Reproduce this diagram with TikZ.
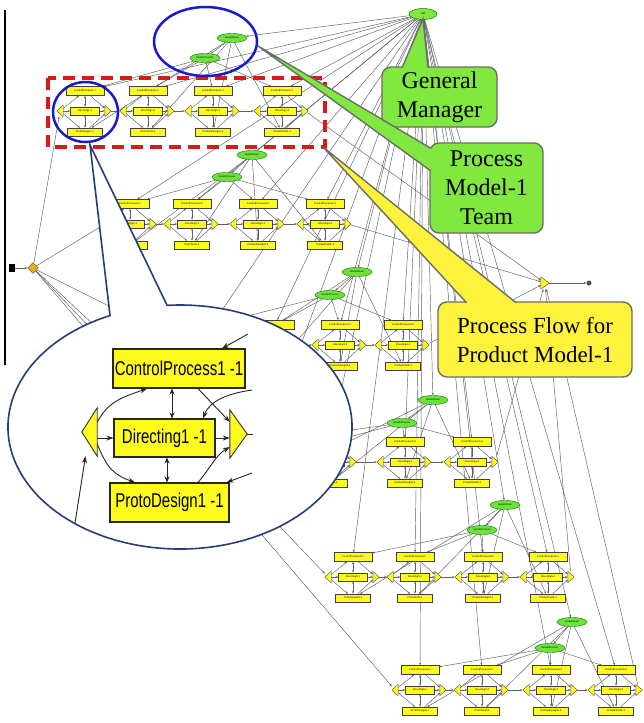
\documentclass[tikz,border=0pt]{standalone}
\usepackage{fontspec}
\usepackage{graphicx}
\setmainfont{Liberation Serif}
\newfontfamily\labelfont{Liberation Sans}
\usetikzlibrary{arrows.meta,shapes.geometric,calc}
\pgfdeclarelayer{background}
\pgfdeclarelayer{paper}
\pgfsetlayers{paper,background,main}

\definecolor{boxyellow}{RGB}{255,250,30}
\definecolor{callyellow}{RGB}{255,242,60}
\definecolor{teamgreen}{RGB}{110,225,60}
\definecolor{callgreen}{RGB}{128,232,62}
\definecolor{calledge}{RGB}{105,110,105}
\definecolor{dashred}{RGB}{220,25,25}
\definecolor{ringblue}{RGB}{25,25,205}
\definecolor{zoomblue}{RGB}{40,60,120}
\definecolor{wiregray}{RGB}{95,95,95}

\tikzset{
  sbox/.style={draw=black!75, fill=boxyellow, line width=0.5pt, inner sep=0pt,
    font=\labelfont\fontsize{2.6}{3}\selectfont},
  tribox/.style={inner sep=0pt, draw=none},
  trifill/.style={fill=boxyellow, draw=black!70, line width=0.4pt},
  tellipse/.style={ellipse, draw=green!45!black, fill=teamgreen, line width=0.4pt,
    minimum width=30pt, minimum height=9pt, inner sep=0pt,
    font=\labelfont\fontsize{2.4}{3}\selectfont},
  wire/.style={draw=wiregray, line width=0.45pt, arrows={-Stealth[length=2.6pt,width=2pt]}},
  twoway/.style={draw=wiregray, line width=0.45pt,
    arrows={Stealth[length=2.6pt,width=2pt]-Stealth[length=2.6pt,width=2pt]}},
  bigbox/.style={draw=black!85, fill=boxyellow, line width=1.1pt, inner sep=0pt,
    font=\labelfont\fontsize{20}{22}\selectfont},
  bigwire/.style={draw=black!85, line width=0.9pt, arrows={-Stealth[length=7pt,width=5pt]}},
  bigtwoway/.style={draw=black!85, line width=0.9pt,
    arrows={Stealth[length=6pt,width=5pt]-Stealth[length=6pt,width=5pt]}},
  callout/.style={draw=calledge, line width=1.4pt, rounded corners=9pt},
  calltext/.style={font=\fontsize{24}{29}\selectfont, align=center, inner sep=0pt},
}

\begin{document}
\begin{tikzpicture}[x=1pt,y=-1pt]
\useasboundingbox (0,0) rectangle (643,723);
\begin{pgfonlayer}{paper}
  \fill[white] (0,0) rectangle (643,723);
\end{pgfonlayer}

% frame edge on the left
\draw[line width=1.2pt] (5,10) -- (5,365);

% general manager, start and end of the flow
\node[ellipse, draw=green!50!black, fill=callgreen, line width=0.5pt, minimum width=28pt,
  minimum height=11pt, inner sep=0pt, font=\labelfont\fontsize{2.6}{3}\selectfont] (gm) at (423,14) {GM};
\node[draw=black, fill=black, minimum width=5pt, minimum height=7pt, inner sep=0pt] (start) at (12,268) {};
\node[diamond, draw=black!70, fill={rgb,255:red,215;green,180;blue,20}, minimum width=11pt,
  minimum height=11pt, inner sep=0pt] (dia) at (33,268) {};
\node[tribox, minimum width=8pt, minimum height=12pt] (endtri) at (545,283) {};
\filldraw[trifill] (endtri.north west) -- (endtri.south west) -- (endtri.east) -- cycle;
\node[circle, fill=black!70, minimum size=5pt, inner sep=0pt] (enddot) at (589,283) {};
\begin{pgfonlayer}{background}
  \draw[wire] (start) -- (dia);
  \draw[wire] (endtri) -- (enddot);
\end{pgfonlayer}

% six product teams, each with a row of four process units
% (\h = number of leading units that lie under the enlarged view and carry no label)
\foreach \g/\h/\y/\mx/\my/\qx/\qy/\xa/\xb/\xc/\xd in {
  1/0/111/232/38/205/58/85/148/213/282,
  2/0/224/252/155/227/177/130/192/258/325,
  3/2/345/357/272/330/295/212/275/340/403,
  4/1/462/433/400/402/423/265/330/405/472,
  5/0/577/505/505/482/530/353/415/483/548,
  6/0/690/572/622/550/648/420/482/551/616}{
  \node[tellipse] (m\g) at (\mx,\my) {Model\g Team};
  \node[tellipse] (q\g) at (\qx,\qy) {Model\g Process};
  \foreach \u/\cx/\bn in {1/\xa/ProtoDesign,2/\xb/ProtoTest,3/\xc/ProductDesign,4/\xd/ProductTest}{
    \node[sbox, minimum width=38pt, minimum height=9pt] (c\g\u) at (\cx,\y-20) {\ifnum\u>\h ControlProcess\g-\u\fi};
    \node[sbox, minimum width=29pt, minimum height=8pt] (d\g\u) at (\cx,\y) {\ifnum\u>\h Directing\g-\u\fi};
    \node[sbox, minimum width=35pt, minimum height=8pt] (p\g\u) at (\cx,\y+21) {\ifnum\u>\h \bn\g-\u\fi};
    \node[tribox, minimum width=6pt, minimum height=11pt] (l\g\u) at (\cx-25,\y) {};
    \node[tribox, minimum width=6pt, minimum height=11pt] (r\g\u) at (\cx+23,\y) {};
    \filldraw[trifill] (l\g\u.north east) -- (l\g\u.south east) -- (l\g\u.west) -- cycle;
    \filldraw[trifill] (r\g\u.north west) -- (r\g\u.south west) -- (r\g\u.east) -- cycle;
    \begin{pgfonlayer}{background}
      \draw[wire] (l\g\u) -- (c\g\u);
      \draw[wire] (l\g\u) -- (d\g\u);
      \draw[wire] (l\g\u) -- (p\g\u);
      \draw[wire] (c\g\u) -- (r\g\u);
      \draw[wire] (d\g\u) -- (r\g\u);
      \draw[wire] (p\g\u) -- (r\g\u);
      \draw[twoway] (c\g\u) -- (d\g\u);
      \draw[twoway] (d\g\u) -- (p\g\u);
      \draw[wire] (gm) -- (c\g\u);
      \draw[wire] (m\g) -- (p\g\u);
      \draw[wire] (q\g) -- (c\g\u);
    \end{pgfonlayer}
  }
  \begin{pgfonlayer}{background}
    \foreach \a/\b in {1/2,2/3,3/4}{\draw[wire] (r\g\a) -- (l\g\b);}
    \draw[wire] (dia) -- (l\g1);
    \draw[wire] (r\g4) -- (endtri);
    \draw[wire] (gm) -- (m\g);
    \draw[wire] (m\g) -- (q\g);
  \end{pgfonlayer}
}

% highlight marks
\draw[dashred, line width=3.8pt, dash pattern=on 12pt off 7pt] (48,78) rectangle (325,147);
\draw[ringblue, line width=2.5pt] (85.5,112) ellipse [x radius=32.5, y radius=30];
\draw[ringblue, line width=2.5pt] (205.5,41.5) ellipse [x radius=51.5, y radius=34.5];

% enlarged view of the first process unit
\filldraw[fill=white, draw=zoomblue, line width=1.6pt] (90,145) -- (110.04,315.55)
  arc[start angle=246, end angle=-94.3, x radius=172, y radius=122] -- cycle;

\node[bigbox, minimum width=132pt, minimum height=39pt] (zc) at (179,368.5) {\scalebox{0.75}[1]{ControlProcess1 -1}};
\node[bigbox, minimum width=101pt, minimum height=38pt] (zd) at (164.5,438) {\scalebox{0.75}[1]{Directing1 -1}};
\node[bigbox, minimum width=119pt, minimum height=39pt] (zp) at (169.5,502.5) {\scalebox{0.75}[1]{ProtoDesign1 -1}};
\node[tribox, minimum width=15pt, minimum height=48pt] (zl) at (89.5,432) {};
\node[tribox, minimum width=17pt, minimum height=48pt] (zr) at (238.5,434) {};
\filldraw[fill=boxyellow, draw=black!80, line width=0.9pt] (zl.north east) -- (zl.south east) -- (zl.west) -- cycle;
\filldraw[fill=boxyellow, draw=black!80, line width=0.9pt] (zr.north west) -- (zr.south west) -- (zr.east) -- cycle;
\coordinate (o1) at (248,334);
\coordinate (o2) at (252,390);
\coordinate (o3) at (252,473);
\coordinate (o4) at (75,523);
\coordinate (o5) at (253,434);

\draw[bigwire] ([yshift=10pt]zl.east) .. controls +(12,-22) and +(-22,8) .. ([xshift=-32pt]zc.south);
\draw[bigwire] (zl.east |- zd.west) -- (zd.west);
\draw[bigwire] ([yshift=-12pt]zl.east) .. controls +(10,24) and +(-22,-8) .. ([xshift=-34.5pt]zp.north);
\draw[bigwire] ([xshift=19pt]zc.south) -- ([yshift=12pt]zr.west);
\draw[bigwire] (zd.east) -- (zd.east -| zr.west);
\draw[bigwire] ([xshift=28.5pt]zp.north) .. controls +(12,-14) and +(-14,8) .. ([yshift=-13pt]zr.west);
\draw[bigtwoway] ([xshift=7.5pt]zd.north) -- ([xshift=7.5pt]zd.north |- zc.south);
\draw[bigtwoway] ([xshift=2.5pt]zd.south) -- ([xshift=2.5pt]zd.south |- zp.north);
\draw[bigwire] (o1) -- ([xshift=43pt]zc.north);
\draw[bigwire] (o2) .. controls +(-28,4) and +(6,-16) .. ([xshift=38.5pt]zd.north);
\draw[bigwire] (o3) -- ([xshift=-3pt]zp.north east);
\draw[bigwire] (o4) -- ([xshift=-4pt]zl.south);
\draw[draw=black!85, line width=0.9pt] (zr.east) -- (o5);

% callout: general manager
\filldraw[fill=callgreen, callout] (382,67) rectangle (497,127);
\fill[callgreen] (402,69) -- (423,19) -- (428,69) -- cycle;
\draw[calledge, line width=1.4pt] (402,67.7) -- (423,19) -- (428,67.7);
\node[calltext] (gmlabel) at (439.5,97) {General\\Manager};

% callout: model-1 team
\filldraw[fill=callgreen, callout] (430,143) rectangle (543,233);
\fill[callgreen] (258,46) -- (432,149) -- (432,171) -- cycle;
\draw[calledge, line width=1.4pt] (430.7,148.2) -- (258,46) -- (430.7,170.8);
\node[calltext] (teamlabel) at (486.5,188) {Process\\Model-1\\Team};

% callout: process flow
\filldraw[fill=callyellow, callout] (438,302) rectangle (632,377);
\fill[callyellow] (323,147) -- (468,304) -- (517,304) -- cycle;
\draw[calledge, line width=1.4pt] (466.5,302.7) -- (323,147) -- (516,302.7);
\node[calltext, font=\fontsize{23}{29}\selectfont] (flowlabel) at (535,340) {Process Flow for\\Product Model-1};
\end{tikzpicture}
\end{document}
